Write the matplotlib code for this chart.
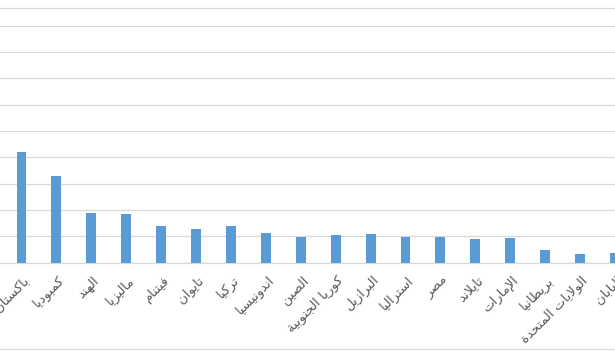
import matplotlib
matplotlib.use("Agg")
import matplotlib.pyplot as plt
import matplotlib.transforms as mtransforms
from matplotlib.lines import Line2D

countries = ["باكستان", "كمبوديا", "الهند", "ماليزيا", "فيتنام", "تايوان", "تركيا",
             "اندونيسيا", "الصين", "كوريا الجنوبية", "البرازيل", "استراليا", "مصر",
             "تايلاند", "الإمارات", "بريطانيا", "الولايات المتحدة", "اليابان"]
values = [4.21, 3.29, 1.88, 1.85, 1.37, 1.28, 1.37, 1.11, 0.97, 1.06, 1.09, 0.97,
          0.97, 0.89, 0.94, 0.48, 0.32, 0.36]
grid_ticks = list(range(0, 10))

# --- minimal Arabic shaping (contextual forms + RTL reversal) ---
FOUR = {'ئ': 0xFE89, 'ب': 0xFE8F, 'ت': 0xFE95, 'ث': 0xFE99, 'ج': 0xFE9D, 'ح': 0xFEA1,
        'خ': 0xFEA5, 'س': 0xFEB1, 'ش': 0xFEB5, 'ص': 0xFEB9, 'ض': 0xFEBD, 'ط': 0xFEC1,
        'ظ': 0xFEC5, 'ع': 0xFEC9, 'غ': 0xFECD, 'ف': 0xFED1, 'ق': 0xFED5, 'ك': 0xFED9,
        'ل': 0xFEDD, 'م': 0xFEE1, 'ن': 0xFEE5, 'ه': 0xFEE9, 'ي': 0xFEF1}
TWO = {'آ': 0xFE81, 'أ': 0xFE83, 'ؤ': 0xFE85, 'إ': 0xFE87, 'ا': 0xFE8D, 'ة': 0xFE93,
       'د': 0xFEA9, 'ذ': 0xFEAB, 'ر': 0xFEAD, 'ز': 0xFEAF, 'و': 0xFEED, 'ى': 0xFEEF}
LAMALEF = {'آ': 0xFEF5, 'أ': 0xFEF7, 'إ': 0xFEF9, 'ا': 0xFEFB}


def shape(word):
    chars = []
    i = 0
    while i < len(word):
        c = word[i]
        if c == 'ل' and i + 1 < len(word) and word[i + 1] in LAMALEF:
            chars.append(('LA', word[i + 1]))
            i += 2
        else:
            chars.append(('C', c))
            i += 1

    def joins_next(item):
        t, c = item
        if t == 'LA':
            return False
        return c in FOUR

    def joins_prev(item):
        t, c = item
        if t == 'LA':
            return True
        return c in FOUR or c in TWO

    out = []
    for k, item in enumerate(chars):
        t, c = item
        prev_j = k > 0 and joins_next(chars[k - 1]) and joins_prev(item)
        next_j = k + 1 < len(chars) and joins_next(item) and joins_prev(chars[k + 1])
        if t == 'LA':
            out.append(chr(LAMALEF[c] + (1 if prev_j else 0)))
        elif c in FOUR:
            b = FOUR[c]
            if prev_j and next_j:
                out.append(chr(b + 3))
            elif prev_j:
                out.append(chr(b + 1))
            elif next_j:
                out.append(chr(b + 2))
            else:
                out.append(chr(b))
        elif c in TWO:
            out.append(chr(TWO[c] + (1 if prev_j else 0)))
        else:
            out.append(c)
    return ''.join(reversed(out))


def shape_text(s):
    return ' '.join(shape(w) for w in reversed(s.split(' ')))


W, H = 615, 354
fig = plt.figure(figsize=(W / 100, H / 100), dpi=100)
base_px = 262.5
top_px = 25.7
step = 35.2
first = 21.7
ax = fig.add_axes([0, (H - base_px) / H, 1, (base_px - top_px) / H])
x = list(range(len(countries)))
ax.bar(x, values, width=10 / step, color="#5B9BD5", zorder=3)
ax.set_xlim(-first / step, (W - first) / step)
ax.set_ylim(0, 9)
ax.set_yticks(grid_ticks)
ax.yaxis.grid(True, color="#D9D9D9", linewidth=0.9, zorder=0)
ax.set_axisbelow(True)
for s in ["left", "right", "top"]:
    ax.spines[s].set_visible(False)
ax.spines["bottom"].set_color("#D9D9D9")
ax.spines["bottom"].set_linewidth(0.9)
ax.tick_params(axis="y", left=False, labelleft=False)
ax.tick_params(axis="x", bottom=False, pad=8)
ax.set_xticks(x)
ax.set_xticklabels([shape_text(c) for c in countries], rotation=45, ha="right",
                   va="center", rotation_mode="anchor", fontsize=9.5,
                   color="#595959", family="DejaVu Sans")
offset = mtransforms.ScaledTranslation(6 / 100, 0, fig.dpi_scale_trans)
for lab in ax.get_xticklabels():
    lab.set_transform(lab.get_transform() + offset)

for ypx in (7.5, 349):
    fig.add_artist(Line2D([0, 1], [(H - ypx) / H] * 2, transform=fig.transFigure,
                          color="#D9D9D9", linewidth=0.9))

fig.savefig("out.png", dpi=100)
